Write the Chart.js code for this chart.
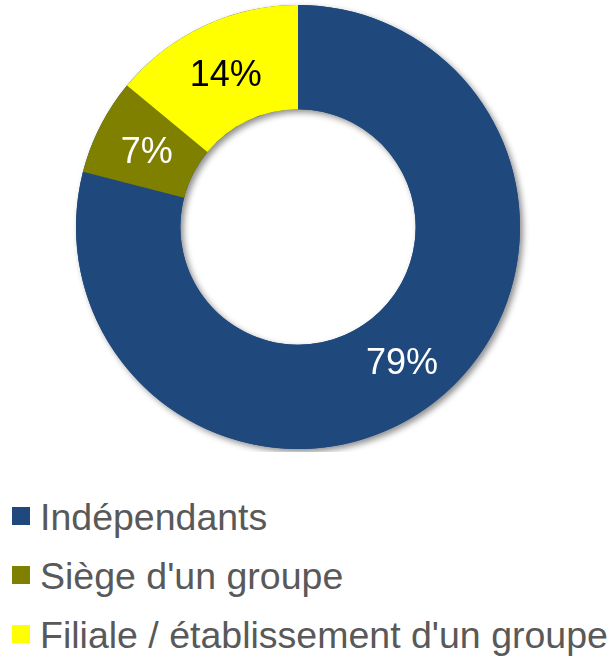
<!DOCTYPE html>
<html>
  <head>
    <meta charset="utf-8">
    <script src="https://cdn.jsdelivr.net/npm/chart.js@4/dist/chart.umd.min.js"></script>
    <style>
      body { margin: 0; background: #fff; font-family: Arial, "Liberation Sans", sans-serif; }
      #wrap { position: relative; width: 616px; height: 452px; }
      #legend { position: absolute; left: 0; top: 488px; margin: 0; padding: 0; list-style: none; }
      #legend li { position: relative; height: 59px; line-height: 59px; padding-left: 40px;
        font-size: 37.5px; color: #595959; white-space: nowrap; }
      #legend li span { position: absolute; left: 12px; top: 19px; width: 18px; height: 18px; }
    </style>
  </head>

  <body>
    <div id="wrap">
      <canvas id="canvas"></canvas>
    </div>
    <ul id="legend"></ul>
    <script>
      const categories = ['Indépendants', "Siège d'un groupe", 'Filiale / établissement d\'un groupe'];
      const shares = [79, 7, 14];

      const colors = ['#1f497d', '#7f7f00', '#ffff00'];
      const labelColors = ['#ffffff', '#ffffff', '#000000'];

      // ring shadow, drawn once under the slices
      const ringShadow = {
        id: 'ringShadow',
        beforeDatasetsDraw(chart) {
          const arc = chart.getDatasetMeta(0).data[0];
          if (!arc) return;
          const { x, y, outerRadius, innerRadius } = arc.getProps(['x', 'y', 'outerRadius', 'innerRadius'], true);
          const ctx = chart.ctx;
          ctx.save();
          ctx.shadowColor = 'rgba(0,0,0,0.45)';
          ctx.shadowBlur = 6;
          ctx.shadowOffsetX = 3;
          ctx.shadowOffsetY = 3;
          ctx.beginPath();
          ctx.arc(x, y, outerRadius, 0, Math.PI * 2);
          ctx.arc(x, y, innerRadius, 0, Math.PI * 2, true);
          ctx.fillStyle = colors[0];
          ctx.fill('evenodd');
          ctx.restore();
        },
      };

      const sliceLabels = {
        id: 'sliceLabels',
        afterDatasetsDraw(chart) {
          const ctx = chart.ctx;
          const values = chart.data.datasets[0].data;
          ctx.save();
          ctx.font = '36px Arial, "Liberation Sans", sans-serif';
          ctx.textAlign = 'center';
          ctx.textBaseline = 'middle';
          chart.getDatasetMeta(0).data.forEach((arc, i) => {
            const p = arc.tooltipPosition();
            ctx.fillStyle = labelColors[i];
            ctx.fillText(values[i] + '%', p.x, p.y + 3);
          });
          ctx.restore();
        },
      };

      const chart = new Chart(document.getElementById('canvas').getContext('2d'), {
        type: 'doughnut',
        data: {
          labels: categories,
          datasets: [{
            data: shares,
            backgroundColor: colors,
            borderWidth: 0,
          }],
        },
        options: {
          responsive: true,
          maintainAspectRatio: false,
          animation: false,
          cutout: '53%',
          layout: { padding: { left: 0, right: 20, top: 5, bottom: 3 } },
          plugins: {
            legend: { display: false },
            tooltip: { enabled: false },
          },
        },
        plugins: [ringShadow, sliceLabels],
      });

      // html legend from the chart's own legend items
      const ul = document.getElementById('legend');
      Chart.overrides.doughnut.plugins.legend.labels.generateLabels(chart).forEach((item) => {
        const li = document.createElement('li');
        const box = document.createElement('span');
        box.style.background = item.fillStyle;
        li.appendChild(box);
        li.appendChild(document.createTextNode(item.text));
        ul.appendChild(li);
      });
    </script>
  </body>
</html>
